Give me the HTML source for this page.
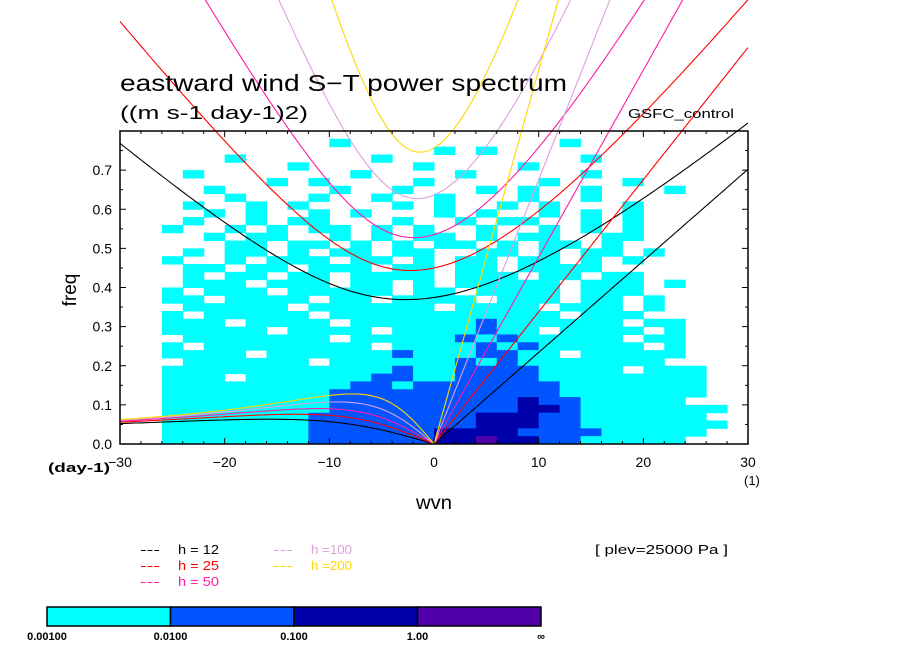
<!DOCTYPE html>
<html><head><meta charset="utf-8"><style>
body{margin:0;background:#fff;}
svg{display:block;font-family:"Liberation Sans",sans-serif;}
</style></head><body>
<svg id="c" width="904" height="654" viewBox="0 0 904 654">
<defs><clipPath id="clipx"><rect x="120" y="0" width="628" height="444"/></clipPath></defs>
<g id="heat"></g>
<g id="curves" clip-path="url(#clipx)"></g>
<rect x="120" y="131" width="628" height="313" fill="none" stroke="#000" stroke-width="1.5"/>
<g id="axes"></g>
<text x="120" y="91" font-size="23" textLength="447" lengthAdjust="spacingAndGlyphs">eastward wind S−T power spectrum</text>
<text x="120" y="119" font-size="18" textLength="188" lengthAdjust="spacingAndGlyphs">((m s-1 day-1)2)</text>
<text x="628" y="118" font-size="13" textLength="106" lengthAdjust="spacingAndGlyphs">GSFC_control</text>
<text x="76" y="290" font-size="19" text-anchor="middle" transform="rotate(-90 76 290)">freq</text>
<text x="416" y="509" font-size="19" textLength="36" lengthAdjust="spacingAndGlyphs">wvn</text>
<text x="48" y="472" font-size="13" font-weight="bold" textLength="62" lengthAdjust="spacingAndGlyphs">(day-1)</text>
<text x="744" y="485" font-size="13">(1)</text>
<text x="595" y="554" font-size="13" textLength="133" lengthAdjust="spacingAndGlyphs">[ plev=25000 Pa ]</text>
<g id="legend"></g>
<g id="cbar"></g>
</svg>
<script>
const hValues=[12,25,50,100,200];
const hColors=["#000000","#ff0000","#ff1aa8","#dda0dd","#ffd700"];
const levelColors=["#00ffff","#0055ff","#0000aa","#5000aa"];
const levelLabels=["0.00100","0.0100","0.100","1.00","∞"];
const yTicks=[0,0.1,0.2,0.3,0.4,0.5,0.6,0.7];
const xTicks=[-30,-20,-10,0,10,20,30];
// power level grid: rows top (0.78) to bottom (0.00), cols wvn -30..30 step 2
const heatRows=[
"..............................",
"..........1..........1........",
"...............1.1............",
".....1......1.........1.......",
"........1.....1....1..........",
"...1.......1....1.....1.......",
".......1.1....1.....1...1.....",
"....1.....1..1...1.1..1...1...",
".....1...1..1..1...1..1.......",
"...1..1.1....1.1..1.1...1.....",
"....1.1..1.1...1.1..1.1.1.....",
"...1..1.11...1..1.11..1.1.....",
"..1..1.1.11.1.1..1..1.1.1.....",
"....1.11..1.1.11.1.11..11.....",
".....11.11.1.1.11.1.11.1......",
"...1.11.1.11.11..11.1.11.1....",
"..1..1.111.11.1.11.11.1.1.....",
"...11.11.111.11.11.1111.......",
"...1.11.11.1111.111.11.11.....",
"...111.111.11.1.11111.111.1...",
"..1.111.11111.11.1111.111.....",
"..11.1111.11.1111.111.11.1....",
"...11111.111111.1111.111.1....",
"..1.11111.11111111111.111.....",
"..111.1111.1111112111111.11...",
"..11111.1111.1111211.1111.1...",
"...1111111.1111121211111.11...",
"..1.11111111.111121211111.1...",
"..1111.11111121112211.11111...",
"...111111.1111112121111111....",
"..1111111111121122221111.111..",
"..111.1111112211222211111111..",
"..11111111122122222221111111..",
"..11111111222222222221111111..",
"..1111111122222222232211111...",
"..111111112222222223321111111.",
"..11111112222222233322111111..",
"..111111122222222333221111111.",
"..11111112222223333222211111..",
"..1111111222222334332211111..."
];
const NS="http://www.w3.org/2000/svg";
const X0=120,X1=748,Y0=444,Y1=131,FMAX=0.8;
const xs=w=>X0+(w+30)/60*(X1-X0);
const ys=f=>Y0-f/FMAX*(Y0-Y1);
function mk(tag,attrs,parent){const e=document.createElementNS(NS,tag);for(const k in attrs)e.setAttribute(k,attrs[k]);parent.appendChild(e);return e;}
const heat=document.getElementById('heat');
const nR=heatRows.length;
heatRows.forEach((row,r)=>{
  for(let c=0;c<30;c++){
    const ch=row[c]||'.';
    if(ch==='.')continue;
    const lv=+ch-1;
    const f0=(nR-1-r)*0.02;
    const x=xs(-30+2*c), x2=xs(-28+2*c);
    const rc=mk('rect',{x:x,y:ys(f0+0.02),width:x2-x+0.5,height:ys(f0)-ys(f0+0.02)+0.5,fill:levelColors[lv]},heat);
    
    
  }
});
const beta=2.28e-11,g=9.8,Re=6.371e6,cpd=86400/(2*Math.PI);
function roots(A,B){
  const p=-A,q=B;const m=2*Math.sqrt(-p/3);
  const th=Math.acos(Math.max(-1,Math.min(1,3*q/(2*p)*Math.sqrt(-3/p))))/3;
  return [0,1,2].map(i=>m*Math.cos(th-2*Math.PI*i/3)).sort((a,b)=>a-b);
}
const curves=document.getElementById('curves');
hValues.forEach((h,i)=>{
  const c=Math.sqrt(g*h);
  let ig=[],ros=[],kel=[];
  for(let s=-30;s<=30.001;s+=0.25){
    const k=s/Re;const A=c*c*k*k+3*beta*c,B=-beta*c*c*k;
    const r=roots(A,B);
    ig.push([xs(s),ys(r[2]*cpd)]);
    if(s<=0){const pos=r.filter(v=>v>=-1e-12);ros.push([xs(s),ys(Math.max(0,pos[0])*cpd)]);}
    if(s>=0)kel.push([xs(s),ys(c*k*cpd)]);
  }
  [[ig,'ig-curve'],[ros,'rossby-curve'],[kel,'kelvin-line']].forEach(([pts,nm])=>{
    const p=mk('polyline',{points:pts.map(q=>q[0].toFixed(1)+','+q[1].toFixed(1)).join(' '),fill:'none',stroke:hColors[i],'stroke-width':1.1},curves);
    
    
  });
});
const ax=document.getElementById('axes');
for(let f=0;f<=0.8001;f+=0.05){
  const major=Math.abs(f*10-Math.round(f*10))<1e-6,L=major?6:3;
  mk('line',{x1:X0,x2:X0+L,y1:ys(f),y2:ys(f),stroke:'#000'},ax);
  mk('line',{x1:X1,x2:X1-L,y1:ys(f),y2:ys(f),stroke:'#000'},ax);
}
for(let w=-30;w<=30;w+=2){
  const L=w%10===0?6:3;
  mk('line',{x1:xs(w),x2:xs(w),y1:Y0,y2:Y0-L,stroke:'#000'},ax);
  mk('line',{x1:xs(w),x2:xs(w),y1:Y1,y2:Y1+L,stroke:'#000'},ax);
}
yTicks.forEach(f=>{const t=mk('text',{x:112,y:ys(f)+5,'font-size':14,'text-anchor':'end'},ax);t.textContent=f.toFixed(1);
  });
xTicks.forEach(w=>{const t=mk('text',{x:xs(w),y:467,'font-size':14,'text-anchor':'middle'},ax);t.textContent=(w<0?'−':'')+Math.abs(w);
  });
const lg=document.getElementById('legend');
hValues.forEach((h,i)=>{
  const col=i<3?0:1,row=i<3?i:i-3;
  const x=col?273:140,y=554+row*16;
  const d=mk('text',{x:x,y:y,'font-size':13,fill:hColors[i],textLength:20,lengthAdjust:'spacingAndGlyphs'},lg);
  d.textContent='---';
  
  
  const t=mk('text',{x:x+38,y:y,'font-size':13,fill:hColors[i],textLength:41,lengthAdjust:'spacingAndGlyphs'},lg);
  t.textContent=(h<100?'h = '+h:'h ='+h);
  
  
});
const cb=document.getElementById('cbar');
const cw=(541-47)/4;
levelColors.forEach((col,i)=>{
  const r=mk('rect',{x:47+i*cw,y:607,width:cw,height:19,fill:col,stroke:'#000','stroke-width':1.5},cb);
  
});
levelLabels.forEach((l,i)=>{
  const t=mk('text',{x:47+i*cw,y:640,'font-size':11,'font-weight':'bold','text-anchor':'middle'},cb);
  t.textContent=l;
});
</script>
</body></html>
